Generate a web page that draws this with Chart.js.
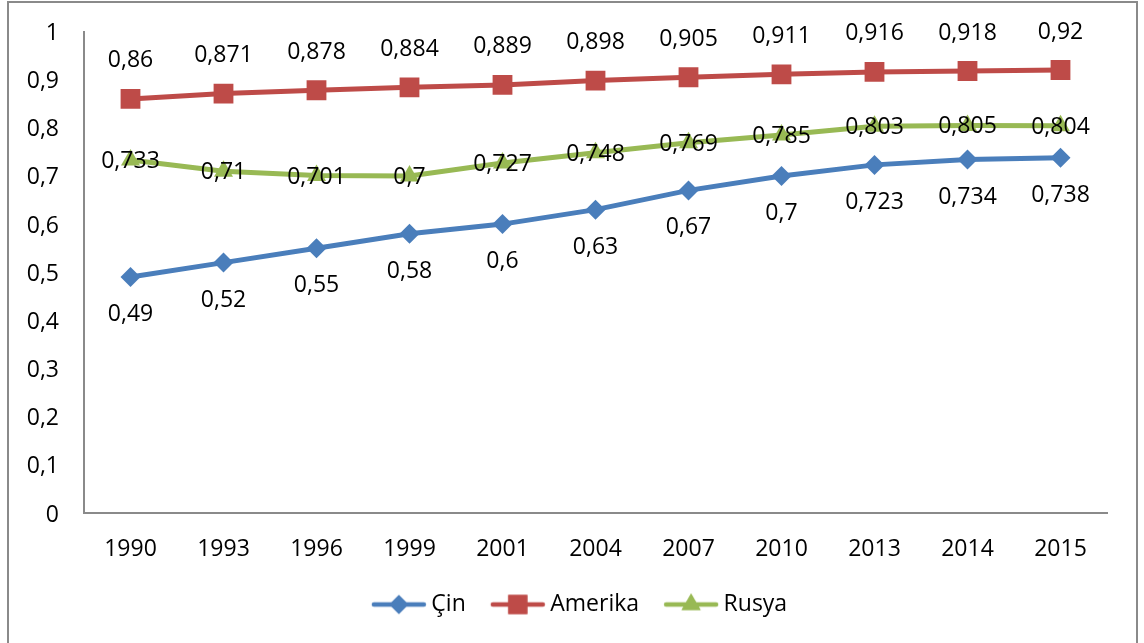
<!DOCTYPE html>
<html>
<head>
<meta charset="utf-8">
<script src="https://cdn.jsdelivr.net/npm/chart.js@4/dist/chart.umd.min.js"></script>
<style>
html,body{margin:0;padding:0;background:#fff;}
#wrap{width:1144px;height:643px;position:relative;}
</style>
</head>
<body>
<div id="wrap"><canvas id="c" width="1144" height="643"></canvas></div>
<script>
const years = ['1990','1993','1996','1999','2001','2004','2007','2010','2013','2014','2015'];
const cin = [0.49,0.52,0.55,0.58,0.6,0.63,0.67,0.7,0.723,0.734,0.738];
const amerika = [0.86,0.871,0.878,0.884,0.889,0.898,0.905,0.911,0.916,0.918,0.92];
const rusya = [0.733,0.71,0.701,0.7,0.727,0.748,0.769,0.785,0.803,0.805,0.804];
const seriesNames = ['Çin','Amerika','Rusya'];
const yTickLabels = ['0','0,1','0,2','0,3','0,4','0,5','0,6','0,7','0,8','0,9','1'];

const FONT = '"Open Sans"';
const FS = 23;
const BLUE = '#4A7EBB', RED = '#BE4B48', GREEN = '#98B954';

function fmt(v){ return String(v).replace('.', ','); }

function legendIcon(color, style, r){
  const W = 77, H = 26;
  const c = document.createElement('canvas');
  c.width = W; c.height = H;
  const ctx = c.getContext('2d');
  const x0 = W - 55, x1 = W - 1, cy = H/2;
  ctx.strokeStyle = color; ctx.lineWidth = 4.5; ctx.lineCap = 'round';
  ctx.beginPath(); ctx.moveTo(x0+2, cy); ctx.lineTo(x1-2, cy); ctx.stroke();
  ctx.fillStyle = color;
  Chart.helpers.drawPoint(ctx, {pointStyle: style, radius: r, borderWidth: 0, rotation: 0}, (x0+x1)/2, cy);
  ctx.fill();
  return c;
}

const borderPlugin = {
  id: 'outerBorder',
  beforeDraw(chart){
    const ctx = chart.ctx;
    ctx.save();
    ctx.fillStyle = '#fff';
    ctx.fillRect(0,0,chart.width,chart.height);
    ctx.strokeStyle = '#8a8a8a';
    ctx.lineWidth = 2;
    ctx.strokeRect(8, 2, 1129, 700);
    ctx.restore();
  }
};

const offsets = [37.5, -38, 1.5];
const labelPlugin = {
  id: 'valueLabels',
  afterDatasetsDraw(chart){
    const ctx = chart.ctx;
    ctx.save();
    ctx.font = FS + 'px ' + FONT;
    ctx.fillStyle = '#000';
    ctx.textAlign = 'center';
    ctx.textBaseline = 'middle';
    chart.data.datasets.forEach((ds, i) => {
      const meta = chart.getDatasetMeta(i);
      meta.data.forEach((pt, j) => {
        ctx.fillText(fmt(ds.data[j]), pt.x, pt.y + offsets[i]);
      });
    });
    ctx.restore();
  }
};

const icons = [legendIcon(BLUE,'rectRot',9.5), legendIcon(RED,'rect',13.5), legendIcon(GREEN,'triangle',11)];

new Chart(document.getElementById('c'), {
  type: 'line',
  data: {
    labels: years,
    datasets: [
      {label: seriesNames[0], data: cin, borderColor: BLUE, backgroundColor: BLUE, borderWidth: 5,
       pointStyle: 'rectRot', pointRadius: 10, pointBorderWidth: 0, pointBackgroundColor: BLUE},
      {label: seriesNames[1], data: amerika, borderColor: RED, backgroundColor: RED, borderWidth: 5,
       pointStyle: 'rect', pointRadius: 14, pointBorderWidth: 0, pointBackgroundColor: RED},
      {label: seriesNames[2], data: rusya, borderColor: GREEN, backgroundColor: GREEN, borderWidth: 5,
       pointStyle: 'triangle', pointRadius: 11, pointBorderWidth: 0, pointBackgroundColor: GREEN}
    ]
  },
  options: {
    responsive: false,
    animation: false,
    events: [],
    layout: {autoPadding: false, padding: {top: 31.5, left: 0, right: 0, bottom: 17}},
    scales: {
      x: {
        offset: true,
        grid: {display: false, drawTicks: false},
        border: {display: true, color: '#8a8a8a', width: 2},
        ticks: {color: '#000', font: {family: FONT, size: FS}, padding: 23, maxRotation: 0, autoSkip: false},
        afterFit(s){ s.height = 70; s.paddingLeft = 0; s.paddingRight = 0; }
      },
      y: {
        min: 0, max: 1,
        grid: {display: false, drawTicks: false},
        border: {display: true, color: '#8a8a8a', width: 2},
        ticks: {stepSize: 0.1, color: '#000', font: {family: FONT, size: FS}, padding: 25, labelOffset: 2,
                callback: (v, i) => yTickLabels[i]},
        afterFit(s){ s.width = 84; s.paddingTop = 0; s.paddingBottom = 0; }
      },
      yRight: {
        position: 'right',
        grid: {display: false, drawTicks: false},
        border: {display: false},
        ticks: {display: false},
        afterFit(s){ s.width = 37; s.paddingTop = 0; s.paddingBottom = 0; }
      }
    },
    plugins: {
      legend: {
        position: 'bottom',
        labels: {
          usePointStyle: true,
          pointStyleWidth: 63,
          boxHeight: 22,
          padding: 10,
          color: '#000',
          font: {family: FONT, size: FS},
          generateLabels(chart){
            return chart.data.datasets.map((ds, i) => ({
              text: ds.label, pointStyle: icons[i], fillStyle: ds.borderColor,
              strokeStyle: ds.borderColor, lineWidth: 0, hidden: false, datasetIndex: i, fontColor: '#000'
            }));
          }
        }
      },
      tooltip: {enabled: false}
    }
  },
  plugins: [borderPlugin, labelPlugin]
});
</script>
</body>
</html>
